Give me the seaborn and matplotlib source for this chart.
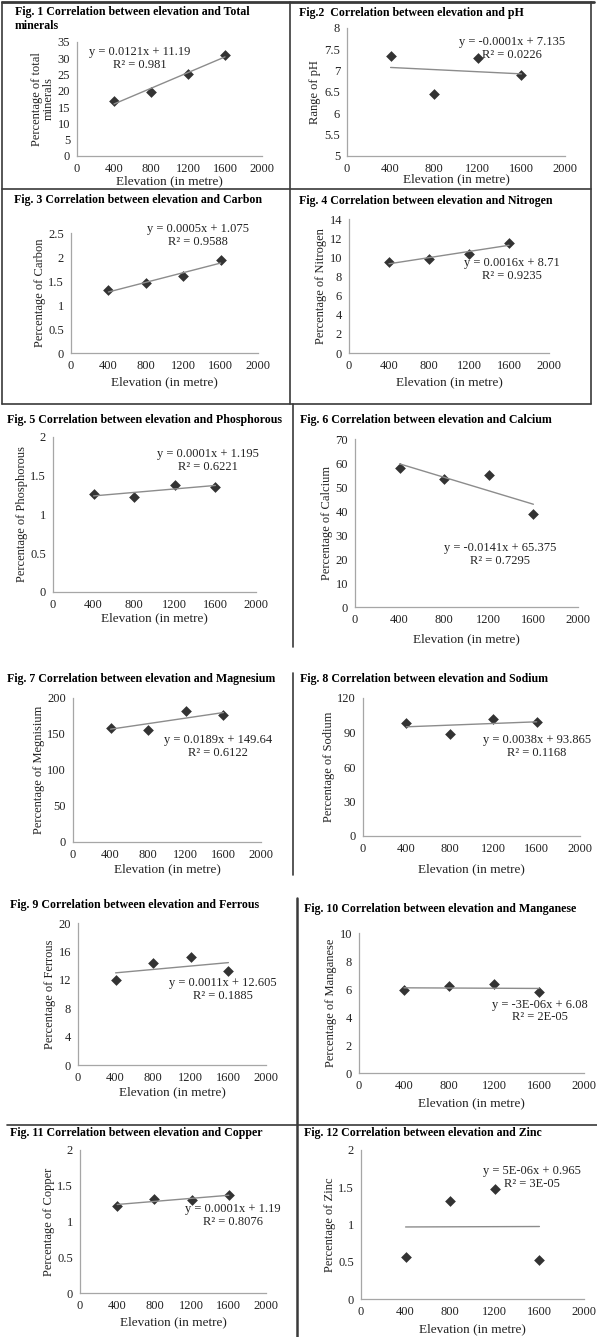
import numpy as np
import pandas as pd
import seaborn as sns
import matplotlib.pyplot as plt
from matplotlib.lines import Line2D
from matplotlib.ticker import FuncFormatter

# elevation of the four sampling sites
elevation = [400, 800, 1200, 1600]

# values
total_minerals = [16.8, 19.7, 25.3, 31.0]
ph = [7.35, 6.45, 7.30, 6.90]
carbon = [1.31, 1.45, 1.60, 1.93]
nitrogen = [9.5, 9.85, 10.3, 11.5]
phosphorous = [1.26, 1.23, 1.38, 1.36]
calcium = [58.0, 53.3, 54.8, 38.8]
magnesium = [159, 156, 182, 176]
sodium = [98.5, 89.0, 102.0, 99.0]
ferrous = [12.0, 14.3, 15.2, 13.3]
manganese = [5.9, 6.2, 6.35, 5.8]
copper = [1.22, 1.32, 1.30, 1.37]
zinc = [0.57, 1.31, 1.48, 0.52]

series = [total_minerals, ph, carbon, nitrogen, phosphorous, calcium,
          magnesium, sodium, ferrous, manganese, copper, zinc]

titles = ["Fig. 1 Correlation between elevation and Total\nminerals",
          "Fig.2  Correlation between elevation and pH",
          "Fig. 3 Correlation between elevation and Carbon",
          "Fig. 4 Correlation between elevation and Nitrogen",
          "Fig. 5 Correlation between elevation and Phosphorous",
          "Fig. 6 Correlation between elevation and Calcium",
          "Fig. 7 Correlation between elevation and Magnesium",
          "Fig. 8 Correlation between elevation and Sodium",
          "Fig. 9 Correlation between elevation and Ferrous",
          "Fig. 10 Correlation between elevation and Manganese",
          "Fig. 11 Correlation between elevation and Copper",
          "Fig. 12 Correlation between elevation and Zinc"]

ylabels = ["Percentage of total\nminerals", "Range of pH", "Percentage of Carbon",
           "Percentage of Nitrogen", "Percentage of Phosphorous", "Percentage of Calcium",
           "Percentage of Megnisium", "Percentage of Sodium", "Percentage of Ferrous",
           "Percentage of Manganese", "Percentage of Copper", "Percentage of Zinc"]

equations = ["y = 0.0121x + 11.19", "y = -0.0001x + 7.135", "y = 0.0005x + 1.075",
             "y = 0.0016x + 8.71", "y = 0.0001x + 1.195", "y = -0.0141x + 65.375",
             "y = 0.0189x + 149.64", "y = 0.0038x + 93.865", "y = 0.0011x + 12.605",
             "y = -3E-06x + 6.08", "y = 0.0001x + 1.19", "y = 5E-06x + 0.965"]
r_squared = ["0.981", "0.0226", "0.9588", "0.9235", "0.6221", "0.7295",
             "0.6122", "0.1168", "0.1885", "2E-05", "0.8076", "3E-05"]

y_min = [0, 5, 0, 0, 0, 0, 0, 0, 0, 0, 0, 0]
y_max = [35, 8, 2.5, 14, 2, 70, 200, 120, 20, 10, 2, 2]
y_step = [5, 0.5, 0.5, 2, 0.5, 10, 50, 30, 4, 2, 0.5, 0.5]
x_ticks = [0, 400, 800, 1200, 1600, 2000]

# layout in pixels: plot area (left, top, right, bottom), title anchor, equation anchor (data)
W, H = 597, 1337
boxes = [(77, 42, 262, 156), (347, 28, 565, 156), (71, 233, 258, 353), (349, 219, 549, 353),
         (53, 437, 256, 592), (355, 439, 578, 607), (73, 698, 261, 842), (363, 698, 580, 836),
         (78, 923, 266, 1065), (359, 933, 584, 1073), (80, 1150, 266, 1293), (361, 1150, 584, 1299)]
title_pos = [(15, 19), (299, 13), (14, 200), (299, 201), (7, 420), (300, 420),
             (7, 679), (300, 679), (10, 905), (304, 909), (10, 1133), (304, 1133)]
eq_pos = [(680, 29.8), (1510, 7.51), (1360, 2.45), (1630, 8.7), (1530, 1.70), (1300, 21.7),
          (1545, 133), (1605, 78), (1545, 10.6), (1610, 4.43), (1640, 1.08), (1535, 1.63)]
xlabel_pad = [0, -1, 3, 3, 1, 5, 2, 6, 2, 4, 3, 4]

sns.set_theme(style="white")
plt.rcParams["font.family"] = ["Liberation Serif", "DejaVu Serif"]

fig = plt.figure(figsize=(W / 100, H / 100), dpi=100)
axis_grey = "#A6A6A6"
text_col = "#222222"

for i in range(12):
    l, t, r, b = boxes[i]
    ax = fig.add_axes([l / W, 1 - b / H, (r - l) / W, (b - t) / H])
    sns.regplot(x=elevation, y=series[i], ax=ax, ci=None, marker="D",
                scatter_kws={"color": "black", "s": 30, "linewidths": 0},
                line_kws={"color": "#8C8C8C", "lw": 1.0})
    ax.set_xlim(0, 2000)
    ax.set_ylim(y_min[i], y_max[i])
    ax.set_xticks(x_ticks)
    ax.set_yticks(np.arange(y_min[i], y_max[i] + y_step[i] / 2, y_step[i]))
    ax.yaxis.set_major_formatter(FuncFormatter(lambda v, p: f"{v:g}"))
    sns.despine(ax=ax)
    for s in ["left", "bottom"]:
        ax.spines[s].set_color(axis_grey)
        ax.spines[s].set_linewidth(0.9)
    ax.tick_params(direction="out", length=3, width=0.8, color=axis_grey,
                   labelcolor=text_col, labelsize=9, pad=2)
    ax.set_xlabel("Elevation (in metre)", fontsize=9.5, color=text_col, labelpad=xlabel_pad[i])
    ax.set_ylabel(ylabels[i], fontsize=9, color=text_col, labelpad=2, linespacing=0.95)
    ax.text(eq_pos[i][0], eq_pos[i][1], equations[i] + "\nR² = " + r_squared[i],
            ha="center", va="center", fontsize=9, color=text_col, linespacing=1.1)
    tx, ty = title_pos[i]
    fig.text(tx / W, 1 - ty / H, titles[i], ha="left", va="center", fontsize=8.6,
             fontweight="bold", color="black", linespacing=1.15)

# frame lines around the panels
frame = [((2, 594), (2, 2), 2.0), ((2, 2), (2, 404), 1.2), ((591, 591), (2, 404), 1.2),
         ((2, 591), (189, 189), 1.2), ((2, 591), (404, 404), 1.2), ((290, 290), (2, 404), 1.2),
         ((293, 293), (404, 647), 1.2), ((293, 293), (673, 875), 1.2),
         ((297, 297), (898, 1337), 1.8), ((7, 597), (1125, 1125), 1.2)]
for xs, ys, lw in frame:
    fig.add_artist(Line2D([x / W for x in xs], [1 - y / H for y in ys],
                          color="#3A3A3A", lw=lw))

fig.savefig("out.png", dpi=100)
